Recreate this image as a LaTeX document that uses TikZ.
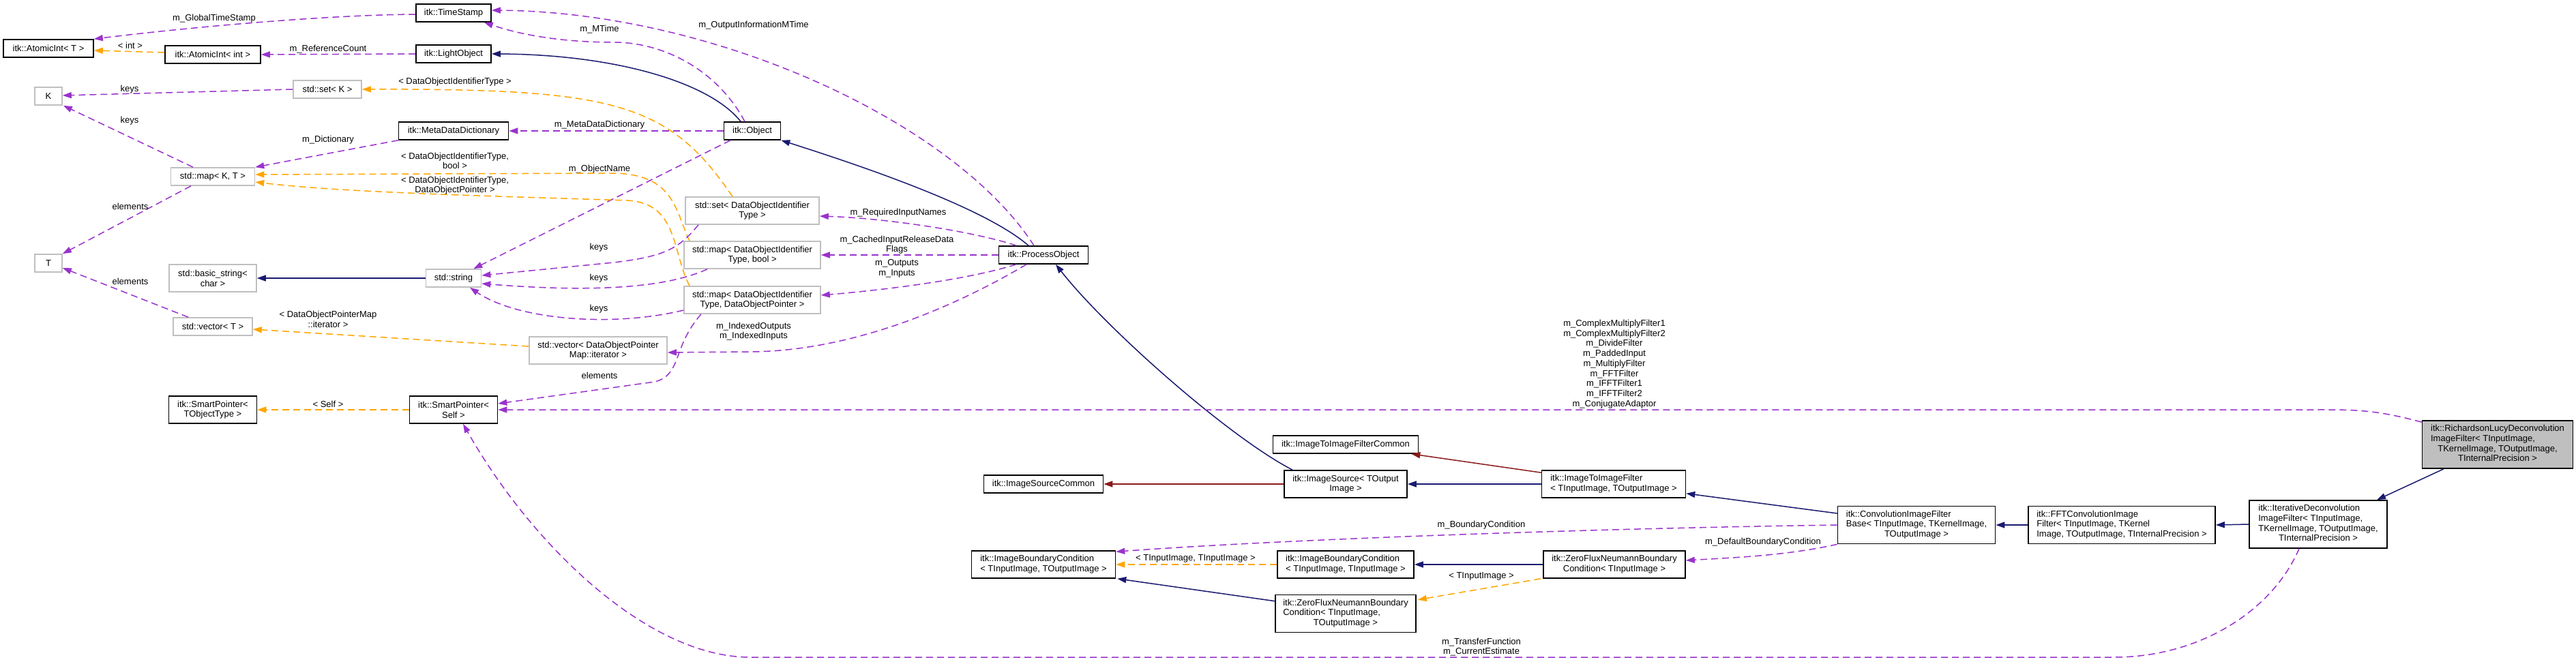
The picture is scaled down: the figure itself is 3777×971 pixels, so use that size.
\documentclass[tikz,border=0pt]{standalone}
\usepackage{fontspec}
\usepackage{xcolor}
\newfontfamily\dxfont{Liberation Sans}
\definecolor{DXblue}{HTML}{191970}
\definecolor{DXpurple}{HTML}{9A32CD}
\definecolor{DXorange}{HTML}{FFA500}
\definecolor{DXred}{HTML}{8B1A1A}
\definecolor{DXgray}{HTML}{BFBFBF}
\usepackage{tikz}
\usetikzlibrary{arrows.meta}
\newcommand{\dxtext}{\dxfont\fontsize{13pt}{14.7pt}\selectfont}
\newcommand{\dxrows}[1]{\begin{tabular}{@{}c@{}}#1\end{tabular}}
\newcommand{\lft}[1]{\multicolumn{1}{@{}l@{}}{#1}}

\begin{document}
\begin{tikzpicture}[x=1pt, y=-1pt]
    \tikzset{
  cls/.style={rectangle, draw=black, line width=1.6pt, fill=white, inner sep=0pt,
              minimum height=26pt, align=center, font=\dxtext},
  stdcls/.style={cls, draw=DXgray},
  focuscls/.style={cls, fill=DXgray},
  lines2/.style={minimum height=40pt},
  lines3/.style={minimum height=55pt},
  lines4/.style={minimum height=70pt},
  inherit/.style={DXblue, line width=1.5pt, -{Triangle[length=13pt, width=9pt]}},
  privinherit/.style={inherit, DXred},
  uses/.style={DXpurple, line width=1.5pt, dash pattern=on 10pt off 6pt,
               -{Triangle[length=13pt, width=9pt]}},
  tmpl/.style={uses, DXorange},
  edgelab/.style={font=\dxtext, inner sep=0pt, align=center},
}
% ============================================================
%  collaboration graph: RichardsonLucyDeconvolutionImageFilter
% ============================================================
\fill[white] (0,0) rectangle (3777,971);
\useasboundingbox (0,0) rectangle (3777,971);

% ── column 1: K, T, AtomicInt< T > ─────────────────────────
\node[cls, minimum width=132pt] (AtomicIntT) at (71,71) {itk::AtomicInt< T >};
\node[stdcls, minimum width=40pt] (K) at (71,141) {K};
\node[stdcls, minimum width=40pt] (T) at (71,386) {T};

% ── column 2 ───────────────────────────────────────────────
\node[cls, minimum width=140pt] (AtomicIntInt) at (312,80) {itk::AtomicInt< int >};
\node[stdcls, minimum width=100pt] (setK) at (480,131) {std::set< K >};
\node[stdcls, minimum width=123pt] (mapKT) at (312,259) {std::map< K, T >};
\node[stdcls, lines2, minimum width=128pt] (basicString) at (312,408) {std::basic\_string<\\char >};
\node[stdcls, minimum width=116pt] (vectorT) at (312,479) {std::vector< T >};
\node[cls, lines2, minimum width=129pt] (smartPtrT) at (312,601) {itk::SmartPointer<\\TObjectType >};

% ── column 3 ───────────────────────────────────────────────
\node[cls, minimum width=110pt] (TimeStamp) at (665,19) {itk::TimeStamp};
\node[cls, minimum width=110pt] (LightObject) at (665,79) {itk::LightObject};
\node[cls, minimum width=161pt] (MDD) at (665,192) {itk::MetaDataDictionary};
\node[stdcls, minimum width=81pt] (stdString) at (665,408) {std::string};
\node[cls, lines2, minimum width=129pt] (smartPtrSelf) at (665,601) {itk::SmartPointer<\\Self >};
\node[stdcls, lines2, minimum width=202pt] (vecIter) at (877,514) {std::vector< DataObjectPointer\\Map::iterator >};

% ── column 4: Object and its containers ────────────────────
\node[cls, minimum width=83pt] (Object) at (1103,192) {itk::Object};
\node[stdcls, lines2, minimum width=196pt] (setDOIT) at (1103,309) {std::set< DataObjectIdentifier\\Type >};
\node[stdcls, lines2, minimum width=200pt] (mapBool) at (1103,374) {std::map< DataObjectIdentifier\\Type, bool >};
\node[stdcls, lines2, minimum width=200pt] (mapDOP) at (1103,440) {std::map< DataObjectIdentifier\\Type, DataObjectPointer >};

% ── column 5 ───────────────────────────────────────────────
\node[cls, minimum width=131pt] (processObj) at (1530,374) {itk::ProcessObject};
\node[cls, minimum width=175pt] (imgSrcCommon) at (1530,710) {itk::ImageSourceCommon};
\node[cls, lines2, minimum width=211pt] (ibcTO) at (1530,828)
  {\dxrows{\lft{itk::ImageBoundaryCondition}\\\lft{< TInputImage, TOutputImage >}}};

% ── column 6 ───────────────────────────────────────────────
\node[cls, minimum width=213pt] (itifCommon) at (1973,652) {itk::ImageToImageFilterCommon};
\node[cls, lines2, minimum width=180pt] (imgSource) at (1973,710) {itk::ImageSource< TOutput\\Image >};
\node[cls, lines2, minimum width=200pt] (ibcTI) at (1973,828)
  {\dxrows{\lft{itk::ImageBoundaryCondition}\\\lft{< TInputImage, TInputImage >}}};
\node[cls, lines3, minimum width=206pt] (zfTITO) at (1973,900)
  {\dxrows{\lft{itk::ZeroFluxNeumannBoundary}\\\lft{Condition< TInputImage,}\\TOutputImage >}};

% ── column 7 ───────────────────────────────────────────────
\node[cls, lines2, minimum width=211pt] (itif) at (2366,710)
  {\dxrows{\lft{itk::ImageToImageFilter}\\\lft{< TInputImage, TOutputImage >}}};
\node[cls, lines2, minimum width=208pt] (zfTI) at (2367,828)
  {\dxrows{\lft{itk::ZeroFluxNeumannBoundary}\\Condition< TInputImage >}};

% ── filter chain ───────────────────────────────────────────
\node[cls, lines3, minimum width=231pt] (conv) at (2810,770)
  {\dxrows{\lft{itk::ConvolutionImageFilter}\\\lft{Base< TInputImage, TKernelImage,}\\TOutputImage >}};
\node[cls, lines3, minimum width=274pt] (fft) at (3111,770)
  {\dxrows{\lft{itk::FFTConvolutionImage}\\\lft{Filter< TInputImage, TKernel}\\\lft{Image, TOutputImage, TInternalPrecision >}}};
\node[cls, lines4, minimum width=202pt] (iter) at (3399,769)
  {\dxrows{\lft{itk::IterativeDeconvolution}\\\lft{ImageFilter< TInputImage,}\\TKernelImage, TOutputImage,\\TInternalPrecision >}};
\node[focuscls, lines4, minimum width=221pt] (rl) at (3662,652)
  {\dxrows{\lft{itk::RichardsonLucyDeconvolution}\\\lft{ImageFilter< TInputImage,}\\TKernelImage, TOutputImage,\\TInternalPrecision >}};

% ── AtomicInt / TimeStamp / LightObject ────────────────────
\draw[uses] ([yshift=-2pt]TimeStamp.west) .. controls (470,22) and (260,42) .. (AtomicIntT.north east);
\node[edgelab] (labGlobalTS) at (314,27) {m\_GlobalTimeStamp};
\draw[tmpl] ([yshift=3pt]AtomicIntInt.west) -- ([yshift=-3pt]AtomicIntT.east);
\node[edgelab] (labInt) at (191,67) {< int >};
\draw[uses] (LightObject.west) -- (AtomicIntInt.east);
\node[edgelab] (labRefCount) at (481,72) {m\_ReferenceCount};

% ── Object ─────────────────────────────────────────────────
\draw[inherit] ([xshift=-17pt]Object.north) .. controls (1040,120) and (900,80) .. (LightObject.east);
\draw[uses] ([xshift=-11pt]Object.north) .. controls (1050,100) and (970,62) .. (900,62)
  .. controls (820,62) and (760,50) .. ([xshift=-11pt]TimeStamp.south east);
\node[edgelab] (labMTime) at (879,43) {m\_MTime};
\draw[uses] (Object.west) -- (MDD.east);
\node[edgelab] (labMDD) at (879,183) {m\_MetaDataDictionary};
\draw[uses] ([xshift=-32pt]Object.south) -- ([xshift=-12pt]stdString.north east);
\node[edgelab] (labObjName) at (879,248) {m\_ObjectName};

% ── std containers ─────────────────────────────────────────
\draw[uses] (setK.west) -- ([yshift=1pt]K.east);
\node[edgelab] (labKeys1) at (190,131) {keys};
\draw[tmpl] ([xshift=-29pt]setDOIT.north) .. controls (980,150) and (900,130) .. (setK.east);
\node[edgelab] (labSetDOIT) at (667,120) {< DataObjectIdentifierType >};
\draw[uses] (MDD.south west) -- (mapKT.north east);
\node[edgelab] (labDict) at (481,205) {m\_Dictionary};
\draw[uses] ([xshift=-29pt]mapKT.north) -- ([xshift=1pt]K.south east);
\node[edgelab] (labKeys2) at (190,177) {keys};
\draw[uses] ([xshift=-32pt]mapKT.south) -- (T.north east);
\node[edgelab] (labElem1) at (191,303) {elements};
\draw[tmpl] ([xshift=-92pt]mapBool.north) .. controls (990,310) and (990,256) .. (900,254)
  -- ([yshift=3pt]mapKT.east);
\node[edgelab] (labMapBool) at (667,236) {< DataObjectIdentifierType,\\bool >};
\draw[tmpl] ([xshift=-92pt]mapDOP.north) .. controls (985,370) and (995,298) .. (920,294)
  .. controls (700,287) and (500,282) .. ([yshift=-8pt]mapKT.east);
\node[edgelab] (labMapDOP) at (667,272) {< DataObjectIdentifierType,\\DataObjectPointer >};
\draw[uses] ([xshift=-79pt]setDOIT.south) .. controls (995,365) and (975,376) .. (900,385)
  -- ([yshift=4pt]stdString.east);
\node[edgelab] (labKeys3) at (878,363) {keys};
\draw[uses] ([xshift=-66pt]mapBool.south) .. controls (960,430) and (820,425) .. ([yshift=-8pt]stdString.east);
\node[edgelab] (labKeys4) at (878,408) {keys};
\draw[uses] ([yshift=-15pt]mapDOP.west) .. controls (900,480) and (760,470) .. ([xshift=24pt]stdString.south);
\node[edgelab] (labKeys5) at (878,453) {keys};
\draw[uses] ([xshift=-75pt]mapDOP.south) .. controls (985,510) and (1000,550) .. (960,560)
  -- ([yshift=9pt]smartPtrSelf.east);
\node[edgelab] (labElem2) at (879,551) {elements};
\draw[tmpl] ([yshift=6pt]vecIter.west) -- ([yshift=-4pt]vectorT.east);
\node[edgelab] (labVecIter) at (481,468) {< DataObjectPointerMap\\::iterator >};
\draw[uses] ([xshift=-36pt]vectorT.north) -- ([yshift=-7pt]T.east);
\node[edgelab] (labElem3) at (191,413) {elements};
\draw[inherit] (stdString.west) -- (basicString.east);
\draw[tmpl] (smartPtrSelf.west) -- (smartPtrT.east);
\node[edgelab] (labSelf) at (481,593) {< Self >};

% ── ProcessObject ──────────────────────────────────────────
\draw[uses] ([xshift=-14pt]processObj.north) .. controls (1400,180) and (1050,18) .. ([yshift=4pt]TimeStamp.east);
\node[edgelab] (labOutMTime) at (1105,37) {m\_OutputInformationMTime};
\draw[inherit] ([xshift=-22pt]processObj.north) .. controls (1450,310) and (1300,255) .. (Object.south east);
\draw[uses] ([xshift=-40pt]processObj.north) .. controls (1430,340) and (1300,320) .. ([yshift=-8pt]setDOIT.east);
\node[edgelab] (labReqNames) at (1317,312) {m\_RequiredInputNames};
\draw[uses] (processObj.west) -- (mapBool.east);
\node[edgelab] (labCached) at (1315,359) {m\_CachedInputReleaseData\\Flags};
\draw[uses] ([xshift=-40pt]processObj.south) .. controls (1420,410) and (1300,425) .. ([yshift=7pt]mapDOP.east);
\node[edgelab] (labInOut) at (1315,394) {m\_Outputs\\m\_Inputs};
\draw[uses] ([xshift=-25pt]processObj.south) .. controls (1400,450) and (1250,515) .. (1100,516)
  -- ([yshift=-3pt]vecIter.east);
\node[edgelab] (labIndexed) at (1105,486) {m\_IndexedOutputs\\m\_IndexedInputs};

% ── image filter hierarchy ─────────────────────────────────
\draw[inherit] ([xshift=-78pt]imgSource.north) .. controls (1800,640) and (1620,480) .. ([xshift=18pt]processObj.south);
\draw[privinherit] (imgSource.west) -- (imgSrcCommon.east);
\draw[inherit] (itif.west) -- (imgSource.east);
\draw[privinherit] ([yshift=-4pt]itif.north west) -- ([xshift=-11pt]itifCommon.south east);
\draw[inherit] ([yshift=17pt]conv.west) -- ([yshift=7pt]itif.south east);
\draw[inherit] (fft.west) -- (conv.east);
\draw[inherit] (iter.west) -- (fft.east);
\draw[inherit] ([xshift=-79pt]rl.south) -- ([xshift=86pt]iter.north);

% ── boundary conditions ────────────────────────────────────
\draw[uses] (conv.west) .. controls (2350,775) and (1900,790) .. ([yshift=-2pt]ibcTO.north east);
\node[edgelab] (labBoundary) at (2172,770) {m\_BoundaryCondition};
\draw[uses] (conv.south west) .. controls (2620,815) and (2540,818) .. ([yshift=6pt]zfTI.east);
\node[edgelab] (labDefBoundary) at (2585,795) {m\_DefaultBoundaryCondition};
\draw[tmpl] (ibcTI.west) -- (ibcTO.east);
\node[edgelab] (labTITI) at (1753,819) {< TInputImage, TInputImage >};
\draw[inherit] (zfTI.west) -- (ibcTI.east);
\draw[tmpl] ([xshift=-3pt]zfTI.south west) -- ([xshift=2pt, yshift=-8pt]zfTITO.north east);
\node[edgelab] (labTI) at (2172,845) {< TInputImage >};
\draw[inherit] ([yshift=-10pt]zfTITO.north west) -- ([xshift=2pt]ibcTO.south east);

% ── smart pointer members ──────────────────────────────────
\draw[uses] ([yshift=-3pt]rl.north west) .. controls (3480,600) and (3450,601) .. (3390,601)
  -- (smartPtrSelf.east);
\node[edgelab] (labRLMembers) at (2367,534) {m\_ComplexMultiplyFilter1\\m\_ComplexMultiplyFilter2\\m\_DivideFilter\\m\_PaddedInput\\m\_MultiplyFilter\\m\_FFTFilter\\m\_IFFTFilter1\\m\_IFFTFilter2\\m\_ConjugateAdaptor};
\draw[uses] ([xshift=-28pt]iter.south) .. controls (3330,900) and (3220,964) .. (3100,964)
  -- (1100,964) .. controls (950,964) and (780,800) .. ([xshift=14pt]smartPtrSelf.south);
\node[edgelab] (labIterMembers) at (2172,949) {m\_TransferFunction\\m\_CurrentEstimate};

  \end{tikzpicture}
\end{document}
